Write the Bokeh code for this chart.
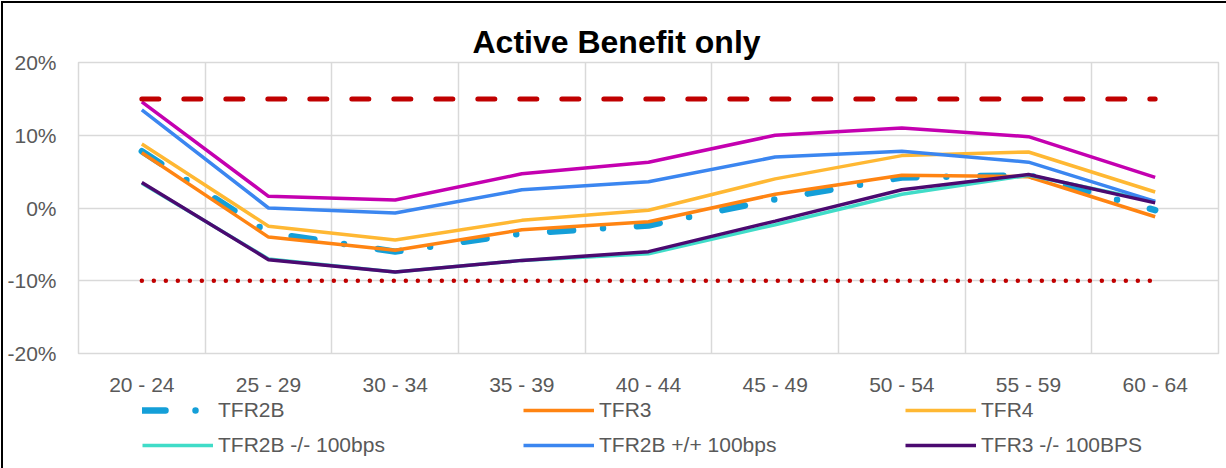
from bokeh.plotting import figure
from bokeh.layouts import column, row
from bokeh.models import Legend, LegendItem, FixedTicker, Range1d, PrintfTickFormatter, Div
from bokeh.embed import file_html
from bokeh.resources import INLINE

categories = ["20 - 24", "25 - 29", "30 - 34", "35 - 39", "40 - 44",
              "45 - 49", "50 - 54", "55 - 59", "60 - 64"]
tfr2b = [7.8, -3.4, -6.0, -3.5, -2.4, 1.2, 4.2, 4.5, -0.3]
tfr3 = [7.6, -4.0, -5.8, -3.0, -1.9, 1.9, 4.5, 4.3, -1.2]
tfr4 = [8.8, -2.5, -4.4, -1.7, -0.3, 4.0, 7.2, 7.7, 2.2]
tfr2b_minus = [3.4, -7.0, -8.8, -7.2, -6.3, -2.3, 1.9, 4.5, 0.9]
tfr2b_plus = [13.5, 0.0, -0.7, 2.5, 3.6, 7.0, 7.8, 6.3, 0.9]
tfr3_minus = [3.5, -7.1, -8.8, -7.2, -6.0, -1.8, 2.5, 4.6, 0.7]
upper_series = [14.6, 1.6, 1.1, 4.7, 6.3, 10.0, 11.0, 9.8, 4.2]
upper_limit = [15] * 9
lower_limit = [-10] * 9
y_ticks = [-20, -10, 0, 10, 20]

x = list(range(len(categories)))
FONT = "Liberation Sans"
GREY = "#595959"

styles = {
    "TFR2B": dict(line_color="#149FD8", line_width=6.5, line_dash="23 30 0 34", line_cap="round"),
    "TFR3": dict(line_color="#FF8412", line_width=3.5),
    "TFR4": dict(line_color="#FFB833", line_width=3.5),
    "TFR2B -/- 100bps": dict(line_color="#40DCC8", line_width=3.5),
    "TFR2B +/+ 100bps": dict(line_color="#3B86F0", line_width=3.5),
    "TFR3 -/- 100BPS": dict(line_color="#4B0A70", line_width=3.5),
}
series = {
    "TFR2B": tfr2b, "TFR3": tfr3, "TFR4": tfr4,
    "TFR2B -/- 100bps": tfr2b_minus, "TFR2B +/+ 100bps": tfr2b_plus,
    "TFR3 -/- 100BPS": tfr3_minus,
}

W = 1223
p = figure(width=W, height=393, output_backend="svg", toolbar_location=None,
           x_range=Range1d(-0.5, len(categories) - 0.5), y_range=Range1d(-20, 20),
           min_border_left=75, min_border_right=8, min_border_top=59, min_border_bottom=43,
           frame_width=1140, frame_height=291)

p.title.text = "Active Benefit only"
p.title.text_font = FONT
p.title.text_font_size = "32px"
p.title.text_font_style = "bold"
p.title.text_color = "black"
p.title.align = "left"
p.title.offset = 394
p.title.standoff = 6

p.outline_line_color = "#D9D9D9"
p.outline_line_width = 1.5

p.xgrid.ticker = FixedTicker(ticks=[i + 0.5 for i in range(-1, len(categories))])
p.ygrid.ticker = FixedTicker(ticks=y_ticks)
for g in (p.xgrid, p.ygrid):
    g.grid_line_color = "#D9D9D9"
    g.grid_line_width = 1.5

p.xaxis.ticker = FixedTicker(ticks=x)
p.xaxis.major_label_overrides = {i: c for i, c in enumerate(categories)}
p.yaxis.ticker = FixedTicker(ticks=y_ticks)
p.yaxis.formatter = PrintfTickFormatter(format="%d%%")
for ax in (p.xaxis, p.yaxis):
    ax.axis_line_color = None
    ax.major_tick_line_color = None
    ax.minor_tick_line_color = None
    ax.major_tick_out = 0
    ax.major_tick_in = 0
    ax.major_label_text_font = FONT
    ax.major_label_text_font_size = "21px"
    ax.major_label_text_color = GREY
p.yaxis.major_label_standoff = 22
p.xaxis.major_label_standoff = 19

for name in ["TFR2B", "TFR3", "TFR4", "TFR2B -/- 100bps", "TFR2B +/+ 100bps", "TFR3 -/- 100BPS"]:
    p.line(x, series[name], **styles[name])
p.line(x, upper_series, line_color="#C400B0", line_width=3.5)
p.line(x, upper_limit, line_color="#C00000", line_width=5, line_dash="17 25", line_cap="round")
p.line(x, lower_limit, line_color="#C00000", line_width=4.5, line_dash="0 12", line_cap="round")

# legend strip below the chart (keys drawn from the same series, off-screen)
leg = figure(width=W, height=72, output_backend="svg", toolbar_location=None,
             x_axis_type=None, y_axis_type=None,
             x_range=Range1d(100, 101), y_range=Range1d(100, 101),
             min_border=0, outline_line_color=None)
leg.grid.visible = False
keys = {name: leg.line(x, series[name], **styles[name]) for name in series}

cols = [
    (["TFR2B", "TFR2B -/- 100bps"], 64),
    (["TFR3", "TFR2B +/+ 100bps"], 445),
    (["TFR4", "TFR3 -/- 100BPS"], 827),
]
for names, xloc in cols:
    lg = Legend(items=[LegendItem(label=n, renderers=[keys[n]]) for n in names],
                location=(xloc, 13), orientation="vertical",
                glyph_width=71, glyph_height=24, label_height=24, spacing=11,
                label_standoff=5, padding=0, margin=0,
                label_text_font=FONT, label_text_font_size="21px", label_text_color=GREY,
                background_fill_alpha=0, border_line_alpha=0)
    leg.add_layout(lg, "center")

top_bar = Div(text="", width=W + 2, height=2, margin=0, styles={"background-color": "black"})
left_bar = Div(text="", width=2, height=465, margin=0, styles={"background-color": "black"})
layout = column(top_bar, row(left_bar, column(p, leg, spacing=0), spacing=0), spacing=0,
                styles={"margin-left": "1px", "margin-top": "1px"})

open("out.html", "w").write(file_html(layout, INLINE))
